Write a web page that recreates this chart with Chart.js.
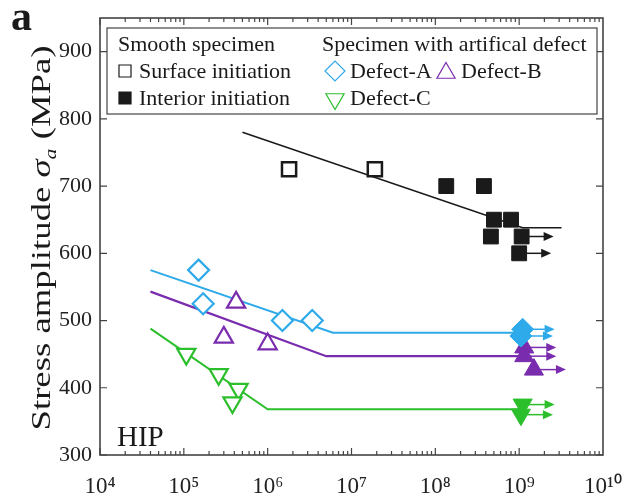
<!DOCTYPE html>
<html>
<head>
<meta charset="utf-8">
<script src="https://cdn.jsdelivr.net/npm/chart.js@4.4.0/dist/chart.umd.min.js"></script>
<style>
  html, body { margin: 0; padding: 0; background: #fff; }
</style>
</head>
<body>
<canvas id="snChart" width="628" height="498"></canvas>
<script>
// N = cycles to failure, S = stress amplitude in MPa
const xTickExps = [4, 5, 6, 7, 8, 9, 10];
const yTicks = [300, 400, 500, 600, 700, 800, 900];

const surfaceN = [1.8e6, 1.9e7];
const surfaceS = [725, 725];
const interiorN = [1.35e8, 3.8e8, 5e8, 8e8, 4.6e8, 1.07e9, 1e9];
const interiorS = [700, 700, 650, 650, 625, 625, 600];
const interiorRunout = [false, false, false, false, false, true, true];

const defectAN = [1.5e5, 1.7e5, 1.5e6, 3.4e6];
const defectAS = [575, 525, 500, 500];
const defectARunN = [1.1e9, 1.05e9];
const defectARunS = [487, 477];

const defectBN = [4.2e5, 3e5, 1e6];
const defectBS = [527, 475, 465];
const defectBRunN = [1.15e9, 1.15e9, 1.5e9];
const defectBRunS = [460, 447, 427];

const defectCN = [1.07e5, 2.6e5, 4.5e5, 3.8e5];
const defectCS = [450, 420, 398, 378];
const defectCRunN = [1.1e9, 1.05e9];
const defectCRunS = [375, 360];

// fitted S-N lines (start, knee, end)
const smoothFitN = [5e5, 1.1e9, 3.2e9];
const smoothFitS = [780, 638, 638];
const fitAN = [4e4, 6e6, 1.1e9];
const fitAS = [575, 482, 482];
const fitBN = [4e4, 5e6, 1.1e9];
const fitBS = [543, 447, 447];
const fitCN = [4e4, 1e6, 1.05e9];
const fitCS = [488, 368, 368];

const colBlack = '#1a1a1a';
const colA = '#2eaaea';
const colB = '#7a2cae';
const colC = '#2cbf2c';
const serif = '"Liberation Serif", "Times New Roman", serif';

const pts = (xs, ys) => xs.map((x, i) => ({ x: x, y: ys[i] }));
const SUP = { '0': '⁰', '1': '¹', '2': '²', '3': '³', '4': '⁴', '5': '⁵', '6': '⁶', '7': '⁷', '8': '⁸', '9': '⁹' };
const sup = n => String(n).split('').map(c => SUP[c]).join('');

function fitLine(xs, ys, color, width) {
    return {
        data: pts(xs, ys), showLine: true, borderColor: color, borderWidth: width,
        pointRadius: 0, fill: false, tension: 0, order: 2
    };
}

function markers(xs, ys, style, color, filled, radius, extra) {
    return Object.assign({
        data: pts(xs, ys), showLine: false, pointStyle: style, pointRadius: radius,
        pointHoverRadius: radius, borderColor: color, pointBorderWidth: filled ? 1 : 2.2,
        backgroundColor: filled ? color : '#fff', order: 1
    }, extra || {});
}

const datasets = [
    fitLine(smoothFitN, smoothFitS, colBlack, 1.6),
    fitLine(fitAN, fitAS, colA, 2),
    fitLine(fitBN, fitBS, colB, 2.2),
    fitLine(fitCN, fitCS, colC, 2),
    markers(surfaceN, surfaceS, 'rect', colBlack, false, 10, { pointBorderWidth: 2.5 }),
    markers(interiorN, interiorS, 'rect', colBlack, true, 10.5, { runout: interiorRunout }),
    markers(defectAN, defectAS, 'rectRot', colA, false, 10.5),
    markers(defectARunN, defectARunS, 'rectRot', colA, true, 11, { runout: true }),
    markers(defectBN, defectBS, 'triangle', colB, false, 10.5),
    markers(defectBRunN, defectBRunS, 'triangle', colB, true, 11, { runout: true }),
    markers(defectCN, defectCS, 'triangle', colC, false, 10.5, { pointRotation: 180 }),
    markers(defectCRunN, defectCRunS, 'triangle', colC, true, 11, { pointRotation: 180, runout: true })
];

// box round the plot with inward ticks on all four sides
const framePlugin = {
    id: 'frame',
    beforeDatasetsDraw(chart) {
        const { ctx, chartArea: a, scales: { x, y } } = chart;
        ctx.save();
        ctx.strokeStyle = '#444';
        ctx.lineWidth = 1.2;
        ctx.beginPath();
        yTicks.forEach(v => {
            const py = y.getPixelForValue(v);
            ctx.moveTo(a.left, py); ctx.lineTo(a.left + 7, py);
            ctx.moveTo(a.right, py); ctx.lineTo(a.right - 7, py);
        });
        for (let e = xTickExps[0]; e < xTickExps[xTickExps.length - 1]; e++) {
            for (let m = 1; m < 10; m++) {
                const px = x.getPixelForValue(m * Math.pow(10, e));
                const len = m === 1 ? 7 : 4;
                ctx.moveTo(px, a.bottom); ctx.lineTo(px, a.bottom - len);
                ctx.moveTo(px, a.top); ctx.lineTo(px, a.top + len);
            }
        }
        ctx.stroke();
        ctx.lineWidth = 1.6;
        ctx.strokeRect(a.left, a.top, a.right - a.left, a.bottom - a.top);
        ctx.restore();
    }
};

// run-out arrows to the right of the unbroken specimens
const arrowPlugin = {
    id: 'arrows',
    afterDatasetsDraw(chart) {
        const ctx = chart.ctx;
        chart.data.datasets.forEach((ds, di) => {
            if (!ds.runout) return;
            const meta = chart.getDatasetMeta(di);
            meta.data.forEach((el, i) => {
                if (Array.isArray(ds.runout) && !ds.runout[i]) return;
                const x0 = el.x + 5, x1 = el.x + 32, yy = el.y;
                ctx.save();
                ctx.strokeStyle = ds.borderColor;
                ctx.fillStyle = ds.borderColor;
                ctx.lineWidth = 1.5;
                ctx.beginPath();
                ctx.moveTo(x0, yy); ctx.lineTo(x1 - 8, yy);
                ctx.stroke();
                ctx.beginPath();
                ctx.moveTo(x1, yy); ctx.lineTo(x1 - 10, yy - 4.5); ctx.lineTo(x1 - 10, yy + 4.5);
                ctx.closePath();
                ctx.fill();
                ctx.restore();
            });
        });
    }
};

function textAt(ctx, str, x, y, font, align) {
    ctx.font = font;
    ctx.textAlign = align || 'left';
    ctx.fillText(str, x, y);
}

const textPlugin = {
    id: 'texts',
    afterDraw(chart) {
        const ctx = chart.ctx;
        const H = Chart.helpers;
        ctx.save();
        ctx.fillStyle = '#1a1a1a';
        ctx.textBaseline = 'alphabetic';

        textAt(ctx, 'a', 11, 30, 'bold 42px ' + serif);
        textAt(ctx, 'HIP', 117, 446, '29px ' + serif);

        // y axis title with italic sigma and subscript a, drawn tall and narrow like the source
        ctx.save();
        ctx.translate(50, 238);
        ctx.rotate(-Math.PI / 2);
        const parts = [
            { t: 'Stress amplitude ', f: '27px ' + serif, dy: 0 },
            { t: 'σ', f: 'italic 27px ' + serif, dy: 0 },
            { t: 'a', f: 'italic 16px ' + serif, dy: 6 },
            { t: ' (MPa)', f: '27px ' + serif, dy: 0 }
        ];
        let total = 0;
        parts.forEach(p => { ctx.font = p.f; p.w = ctx.measureText(p.t).width; total += p.w; });
        ctx.scale(385 / total, 1);
        let cx = -total / 2;
        parts.forEach(p => { ctx.font = p.f; ctx.textAlign = 'left'; ctx.fillText(p.t, cx, p.dy); cx += p.w; });
        ctx.restore();

        // legend box
        ctx.fillStyle = '#fff';
        ctx.fillRect(107, 28, 490, 86);
        ctx.strokeStyle = '#444';
        ctx.lineWidth = 1.2;
        ctx.strokeRect(107, 28, 490, 86);
        ctx.fillStyle = '#1a1a1a';
        const lf = '22px ' + serif;
        textAt(ctx, 'Smooth specimen', 118, 51, lf);
        textAt(ctx, 'Specimen with artifical defect', 322, 51, lf);
        textAt(ctx, 'Surface initiation', 139, 78, lf);
        textAt(ctx, 'Interior initiation', 139, 105, lf);
        textAt(ctx, 'Defect-A', 350, 78, lf);
        textAt(ctx, 'Defect-B', 461, 78, lf);
        textAt(ctx, 'Defect-C', 350, 105, lf);

        const item = (ds, x, y, r) => {
            ctx.strokeStyle = ds.borderColor;
            ctx.fillStyle = ds.backgroundColor;
            H.drawPoint(ctx, { pointStyle: ds.pointStyle, rotation: ds.pointRotation || 0, radius: r, borderWidth: ds.pointBorderWidth }, x, y);
        };
        item(datasets[4], 125, 71, 8.5);
        item(datasets[5], 125, 98, 8.5);
        item(datasets[6], 335, 71, 10);
        item(datasets[8], 446, 73, 10.5);
        item(datasets[10], 335, 99, 10.5);
        ctx.restore();
    }
};

new Chart(document.getElementById('snChart'), {
    type: 'scatter',
    data: { datasets: datasets },
    options: {
        responsive: false,
        animation: false,
        events: [],
        layout: { padding: { top: 18, right: 25, left: 0, bottom: 0 } },
        plugins: { legend: { display: false }, tooltip: { enabled: false } },
        scales: {
            x: {
                type: 'logarithmic', min: 1e4, max: 1e10,
                afterBuildTicks: s => { s.ticks = xTickExps.map(e => ({ value: Math.pow(10, e) })); },
                afterFit: s => { s.height = 43; s.paddingLeft = 0; s.paddingRight = 0; },
                grid: { display: false, drawTicks: false }, border: { display: false },
                ticks: {
                    callback: v => '10' + sup(Math.round(Math.log10(v))),
                    font: { family: serif, size: 23 }, color: '#222', padding: 18, maxRotation: 0, autoSkip: false
                }
            },
            y: {
                min: 300, max: 950,
                afterBuildTicks: s => { s.ticks = yTicks.map(v => ({ value: v })); },
                afterFit: s => { s.width = 100; s.paddingTop = 0; s.paddingBottom = 0; },
                grid: { display: false, drawTicks: false }, border: { display: false },
                ticks: { font: { family: serif, size: 22 }, color: '#222', padding: 8 }
            }
        }
    },
    plugins: [framePlugin, arrowPlugin, textPlugin]
});
</script>
</body>
</html>
